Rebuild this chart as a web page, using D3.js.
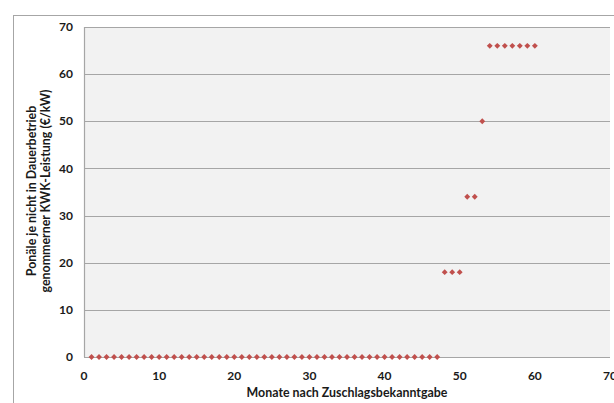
<!DOCTYPE html>
<html><head><meta charset="utf-8">
<script src="https://cdn.jsdelivr.net/npm/d3@7"></script>
<style>body{margin:0;background:#fff;}svg{display:block;font-family:Lato,"Open Sans",sans-serif;}</style>
</head><body><svg id="c" width="614" height="403"></svg>
<script>
const months = d3.range(1, 61);
const penalties = [
  0,0,0,0,0,0,0,0,0,0,
  0,0,0,0,0,0,0,0,0,0,
  0,0,0,0,0,0,0,0,0,0,
  0,0,0,0,0,0,0,0,0,0,
  0,0,0,0,0,0,0,18,18,18,
  34,34,50,66,66,66,66,66,66,66
];
const xTicks = [0,10,20,30,40,50,60,70];
const yTicks = [0,10,20,30,40,50,60,70];
const xTitle = "Monate nach Zuschlagsbekanntgabe";
const yTitle = ["Ponäle je nicht in Dauerbetrieb", "genommerner KWK-Leistung (€/kW)"];

const svg = d3.select("#c");
const L = 84, R = 610, T = 27, B = 357;
const x = d3.scaleLinear().domain([0,70]).range([L,R]);
const y = d3.scaleLinear().domain([0,70]).range([B,T]);

// outer chart border
svg.append("rect").attr("x",13.5).attr("y",15.5).attr("width",640).attr("height",420)
  .attr("fill","#fff").attr("stroke","#a6a6a6").attr("stroke-width",1);

// plot area
svg.append("rect").attr("x",L).attr("y",T).attr("width",R-L).attr("height",B-T).attr("fill","#f2f2f2");

// gridlines
svg.append("g").selectAll("line").data(yTicks.filter(d=>d>0)).join("line")
  .attr("x1",L).attr("x2",R).attr("y1",d=>Math.round(y(d))+0.5).attr("y2",d=>Math.round(y(d))+0.5)
  .attr("stroke","#a6a6a6").attr("stroke-width",1.2);

// axes lines
svg.append("line").attr("x1",L+0.5).attr("x2",L+0.5).attr("y1",T).attr("y2",B).attr("stroke","#a6a6a6").attr("stroke-width",1.2);
svg.append("line").attr("x1",L).attr("x2",R).attr("y1",B+0.5).attr("y2",B+0.5).attr("stroke","#a6a6a6").attr("stroke-width",1.2);

// y tick labels
svg.append("g").selectAll("text").data(yTicks).join("text")
  .attr("x",L-11).attr("y",d=>y(d)).attr("dy","0.35em").attr("text-anchor","end")
  .attr("font-size",12).attr("font-weight","bold").attr("fill","#1a1a1a").text(d=>d);

// x tick labels
svg.append("g").selectAll("text").data(xTicks).join("text")
  .attr("x",d=>x(d)).attr("y",B+23).attr("text-anchor","middle")
  .attr("font-size",12).attr("font-weight","bold").attr("fill","#1a1a1a").text(d=>d);

// x title
svg.append("text").attr("x",347).attr("y",397).attr("text-anchor","middle")
  .attr("font-size",12.4).attr("font-weight","bold").attr("fill","#1a1a1a").text(xTitle);

// y title
const yt = svg.append("text").attr("transform","translate(0,191) rotate(-90)")
  .attr("text-anchor","middle").attr("font-size",12.4).attr("font-weight","bold").attr("fill","#1a1a1a");
yt.append("tspan").attr("x",0).attr("y",36).text(yTitle[0]);
yt.append("tspan").attr("x",0).attr("y",50).text(yTitle[1]);

// markers
const sym = d3.symbol().type(d3.symbolDiamond2).size(22);
svg.append("g").selectAll("path").data(months.map((m,i)=>[m,penalties[i]])).join("path")
  .attr("transform",d=>`translate(${x(d[0])},${y(d[1])})`)
  .attr("d",sym).attr("fill","#c0504d");
</script></body></html>
